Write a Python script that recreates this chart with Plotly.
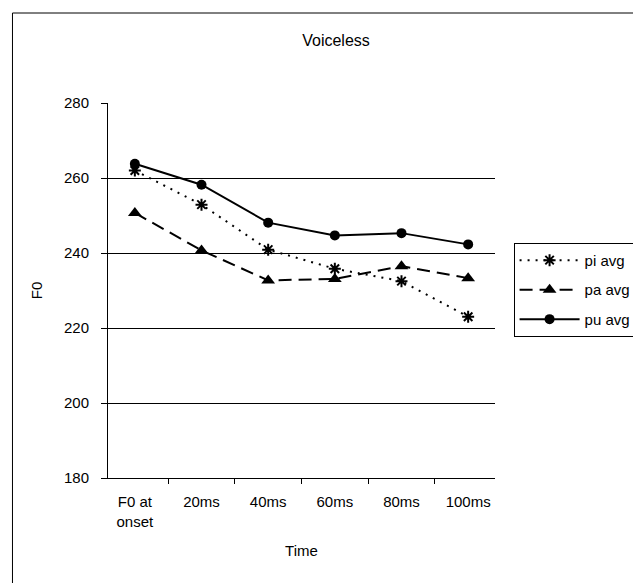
import plotly.graph_objects as go

categories = ["F0 at<br>onset", "20ms", "40ms", "60ms", "80ms", "100ms"]
pi_avg = [262.0, 252.9, 240.9, 235.8, 232.5, 223.0]
pa_avg = [250.7, 240.7, 232.7, 233.1, 236.5, 233.3]
pu_avg = [263.8, 258.2, 248.1, 244.7, 245.3, 242.3]
y_ticks = [180, 200, 220, 240, 260, 280]
grid_ticks = [200, 220, 240, 260]

FONT = "Liberation Sans, Arial, sans-serif"

fig = go.Figure()
# invisible helper trace that carries the gridline axis
fig.add_trace(go.Scatter(x=categories, y=pu_avg, yaxis="y2", mode="markers",
                         marker=dict(opacity=0), showlegend=False, hoverinfo="skip"))
fig.add_trace(go.Scatter(
    x=categories, y=pi_avg, name="pi avg", mode="lines+markers",
    line=dict(color="black", width=2, dash="2px,6px"),
    marker=dict(symbol="asterisk-open", size=10, color="black",
                line=dict(color="black", width=2)),
    legendgroup="a"))
fig.add_trace(go.Scatter(
    x=categories, y=pa_avg, name="pa avg", mode="lines+markers",
    line=dict(color="black", width=2, dash="13px,7px"),
    marker=dict(symbol="triangle-up", size=12, color="black"),
    legendgroup="b"))
fig.add_trace(go.Scatter(
    x=categories, y=pu_avg, name="pu avg", mode="lines+markers",
    line=dict(color="black", width=2),
    marker=dict(symbol="circle", size=10, color="black"),
    legendgroup="c"))

fig.update_layout(
    width=641, height=583,
    margin=dict(l=100, r=148, t=95, b=113),
    paper_bgcolor="white", plot_bgcolor="white",
    font=dict(family=FONT, size=15, color="black"),
    title=dict(text="Voiceless", x=328 / 641, xref="container", xanchor="center",
               y=1 - 32 / 583, yref="container", yanchor="middle",
               font=dict(size=16, family=FONT)),
    showlegend=True,
    legend=dict(x=1.048, y=0.627, xanchor="left", yanchor="top",
                bordercolor="black", borderwidth=1, bgcolor="white",
                traceorder="grouped", tracegroupgap=7, itemwidth=60,
                font=dict(size=15, family=FONT)),
    xaxis=dict(type="category", showline=True, linecolor="black", linewidth=1,
               ticks="outside", ticklen=5, tickcolor="black", tickson="boundaries",
               ticklabelstandoff=10, tickfont=dict(size=15),
               showgrid=False, zeroline=False,
               title=dict(text="Time", standoff=16, font=dict(size=15))),
    yaxis=dict(range=[180, 280], tickvals=y_ticks, showline=True, linecolor="black",
               linewidth=1, ticks="outside", ticklen=6, tickcolor="black",
               ticklabelstandoff=9, tickfont=dict(size=15),
               showgrid=False, zeroline=False,
               title=dict(text="F0", standoff=17, font=dict(size=15))),
    yaxis2=dict(range=[180, 280], tickvals=grid_ticks, overlaying="y",
                showgrid=True, gridcolor="black", gridwidth=1,
                showticklabels=False, showline=False, zeroline=False, ticks=""),
)

# chart frame (left and top edges visible in the reference)
fig.add_shape(type="line", xref="paper", yref="paper",
              x0=-97 / 393, x1=1.5, y0=(470 - 5) / 375, y1=(470 - 5) / 375,
              line=dict(color="black", width=1))
fig.add_shape(type="line", xref="paper", yref="paper",
              x0=-97 / 393, x1=-97 / 393, y0=(470 - 5) / 375, y1=-0.5,
              line=dict(color="black", width=1))

fig.write_html("out.html")
